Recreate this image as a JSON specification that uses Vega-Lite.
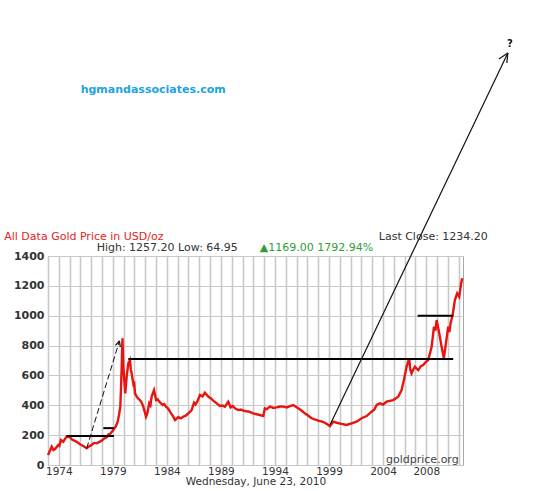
{
  "$schema": "https://vega.github.io/schema/vega-lite/v6.json",
  "width": 415,
  "height": 209,
  "autosize": {"type": "none"},
  "padding": {"left": 48, "top": 256, "right": 73, "bottom": 26},
  "background": "white",
  "config": {
    "view": {"stroke": "#a8a8a8", "strokeWidth": 1},
    "font": "DejaVu Sans"
  },
  "datasets": {
    "gold": [
      {"yr": 1973.00, "price": 67}, {"yr": 1973.20, "price": 98}, {"yr": 1973.34, "price": 123}, {"yr": 1973.50, "price": 100}, {"yr": 1973.65, "price": 107},
      {"yr": 1973.95, "price": 134}, {"yr": 1974.05, "price": 128}, {"yr": 1974.20, "price": 167}, {"yr": 1974.42, "price": 156},
      {"yr": 1974.60, "price": 178}, {"yr": 1974.73, "price": 190}, {"yr": 1975.04, "price": 186}, {"yr": 1975.20, "price": 172}, {"yr": 1975.34, "price": 167},
      {"yr": 1975.65, "price": 156}, {"yr": 1975.80, "price": 148}, {"yr": 1975.96, "price": 139}, {"yr": 1976.27, "price": 127},
      {"yr": 1976.58, "price": 112}, {"yr": 1976.80, "price": 125}, {"yr": 1977.04, "price": 134}, {"yr": 1977.25, "price": 148}, {"yr": 1977.51, "price": 145},
      {"yr": 1977.97, "price": 163}, {"yr": 1978.20, "price": 178}, {"yr": 1978.43, "price": 186}, {"yr": 1978.60, "price": 205}, {"yr": 1978.74, "price": 208},
      {"yr": 1979.04, "price": 234}, {"yr": 1979.26, "price": 257}, {"yr": 1979.45, "price": 290},
      {"yr": 1979.57, "price": 335}, {"yr": 1979.69, "price": 391}, {"yr": 1979.75, "price": 502},
      {"yr": 1979.82, "price": 658}, {"yr": 1979.89, "price": 849}, {"yr": 1979.97, "price": 658},
      {"yr": 1980.06, "price": 569}, {"yr": 1980.15, "price": 480}, {"yr": 1980.28, "price": 592},
      {"yr": 1980.43, "price": 681}, {"yr": 1980.59, "price": 703}, {"yr": 1980.66, "price": 640}, {"yr": 1980.74, "price": 614},
      {"yr": 1980.89, "price": 547}, {"yr": 1980.97, "price": 560}, {"yr": 1981.05, "price": 480}, {"yr": 1981.21, "price": 458},
      {"yr": 1981.35, "price": 445}, {"yr": 1981.51, "price": 435}, {"yr": 1981.65, "price": 420}, {"yr": 1981.82, "price": 391}, {"yr": 1982.07, "price": 324},
      {"yr": 1982.19, "price": 346}, {"yr": 1982.37, "price": 413}, {"yr": 1982.48, "price": 400}, {"yr": 1982.59, "price": 458},
      {"yr": 1982.81, "price": 502}, {"yr": 1983.00, "price": 435}, {"yr": 1983.15, "price": 440}, {"yr": 1983.30, "price": 424},
      {"yr": 1983.61, "price": 402}, {"yr": 1983.75, "price": 408}, {"yr": 1983.92, "price": 391}, {"yr": 1984.10, "price": 380}, {"yr": 1984.29, "price": 357},
      {"yr": 1984.59, "price": 324}, {"yr": 1984.75, "price": 301}, {"yr": 1985.05, "price": 320}, {"yr": 1985.30, "price": 312},
      {"yr": 1985.52, "price": 324}, {"yr": 1985.75, "price": 330}, {"yr": 1985.98, "price": 346}, {"yr": 1986.29, "price": 368},
      {"yr": 1986.51, "price": 417}, {"yr": 1986.65, "price": 405}, {"yr": 1986.81, "price": 424}, {"yr": 1987.06, "price": 469},
      {"yr": 1987.30, "price": 460}, {"yr": 1987.52, "price": 484}, {"yr": 1987.83, "price": 458}, {"yr": 1988.05, "price": 448}, {"yr": 1988.24, "price": 435},
      {"yr": 1988.61, "price": 413}, {"yr": 1988.91, "price": 395}, {"yr": 1989.15, "price": 398}, {"yr": 1989.37, "price": 391},
      {"yr": 1989.68, "price": 424}, {"yr": 1989.90, "price": 386}, {"yr": 1990.10, "price": 395}, {"yr": 1990.30, "price": 380},
      {"yr": 1990.60, "price": 368}, {"yr": 1990.85, "price": 372}, {"yr": 1991.07, "price": 364}, {"yr": 1991.35, "price": 360}, {"yr": 1991.62, "price": 357},
      {"yr": 1991.99, "price": 346}, {"yr": 1992.30, "price": 340}, {"yr": 1992.61, "price": 335}, {"yr": 1992.92, "price": 328},
      {"yr": 1993.07, "price": 380}, {"yr": 1993.25, "price": 375}, {"yr": 1993.54, "price": 391}, {"yr": 1993.85, "price": 382}, {"yr": 1994.16, "price": 386},
      {"yr": 1994.45, "price": 392}, {"yr": 1994.77, "price": 391}, {"yr": 1995.10, "price": 386}, {"yr": 1995.39, "price": 395}, {"yr": 1995.69, "price": 402},
      {"yr": 1996.15, "price": 380}, {"yr": 1996.45, "price": 365}, {"yr": 1996.77, "price": 346}, {"yr": 1997.10, "price": 330}, {"yr": 1997.39, "price": 313},
      {"yr": 1998.00, "price": 297}, {"yr": 1998.30, "price": 292}, {"yr": 1998.62, "price": 283}, {"yr": 1999.09, "price": 261},
      {"yr": 1999.39, "price": 290}, {"yr": 1999.71, "price": 283}, {"yr": 2000.17, "price": 275},
      {"yr": 2000.63, "price": 268}, {"yr": 2001.09, "price": 279}, {"yr": 2001.56, "price": 290},
      {"yr": 2002.02, "price": 313}, {"yr": 2002.48, "price": 328}, {"yr": 2002.94, "price": 357}, {"yr": 2003.20, "price": 372},
      {"yr": 2003.41, "price": 402}, {"yr": 2003.71, "price": 413}, {"yr": 2004.00, "price": 405}, {"yr": 2004.33, "price": 424},
      {"yr": 2004.94, "price": 435}, {"yr": 2005.41, "price": 458}, {"yr": 2005.72, "price": 502},
      {"yr": 2005.93, "price": 569}, {"yr": 2006.18, "price": 658}, {"yr": 2006.42, "price": 715},
      {"yr": 2006.52, "price": 640}, {"yr": 2006.64, "price": 614}, {"yr": 2006.80, "price": 640}, {"yr": 2006.95, "price": 658}, {"yr": 2007.26, "price": 636},
      {"yr": 2007.50, "price": 662}, {"yr": 2007.72, "price": 670}, {"yr": 2007.95, "price": 690}, {"yr": 2008.18, "price": 703}, {"yr": 2008.50, "price": 792},
      {"yr": 2008.71, "price": 926}, {"yr": 2008.85, "price": 900}, {"yr": 2008.96, "price": 971}, {"yr": 2009.08, "price": 930}, {"yr": 2009.20, "price": 882},
      {"yr": 2009.42, "price": 792}, {"yr": 2009.63, "price": 715}, {"yr": 2009.82, "price": 815},
      {"yr": 2010.03, "price": 926}, {"yr": 2010.14, "price": 890}, {"yr": 2010.25, "price": 949}, {"yr": 2010.44, "price": 1005},
      {"yr": 2010.65, "price": 1105}, {"yr": 2010.86, "price": 1150}, {"yr": 2011.05, "price": 1127},
      {"yr": 2011.23, "price": 1217}, {"yr": 2011.33, "price": 1251}
    ],
    "marks": [
      {"yr": 1974.73, "yr2": 1979.10, "price": 195, "price2": 195},
      {"yr": 1978.12, "yr2": 1979.10, "price": 247, "price2": 247},
      {"yr": 1980.43, "yr2": 2010.49, "price": 710, "price2": 710},
      {"yr": 2007.20, "yr2": 2010.49, "price": 1000, "price2": 1000}
    ],
    "arrow": [
      {"yr": 1999.09, "yr2": 2015.55, "price": 268, "price2": 2760},
      {"yr": 2014.72, "yr2": 2015.55, "price": 2720, "price2": 2760},
      {"yr": 2015.46, "yr2": 2015.55, "price": 2693, "price2": 2760},
      {"yr": 1979.24, "yr2": 1979.61, "price": 801, "price2": 831},
      {"yr": 1979.69, "yr2": 1979.61, "price": 790, "price2": 831}
    ],
    "dashed": [
      {"yr": 1976.58, "yr2": 1979.61, "price": 112, "price2": 831}
    ]
  },
  "encoding": {
    "x": {
      "field": "yr", "type": "quantitative",
      "scale": {"domain": [1973, 2011.4], "nice": false, "zero": false},
      "axis": {
        "title": "Wednesday, June 23, 2010",
        "values": [1973, 1974, 1975, 1976, 1977, 1978, 1979, 1980, 1981, 1982, 1983, 1984, 1985, 1986, 1987, 1988, 1989, 1990, 1991, 1992, 1993, 1994, 1995, 1996, 1997, 1998, 1999, 2000, 2001, 2002, 2003, 2004, 2005, 2006, 2007, 2008, 2009, 2010, 2011],
        "format": "d",
        "labelExpr": "indexof([1974, 1979, 1984, 1989, 1994, 1999, 2004, 2008], datum.value) >= 0 ? datum.label : ''",
        "grid": true, "gridColor": "#c8c8c8", "gridWidth": 1.6,
        "domain": false, "ticks": false, "labelPadding": 1,
        "labelFont": "DejaVu Sans", "labelFontSize": 10.5, "labelColor": "#333",
        "labelOverlap": false, "labelFlush": false,
        "titleFont": "DejaVu Sans", "titleFontSize": 10.5, "titleFontWeight": "normal",
        "titleColor": "#333", "titlePadding": 0
      }
    },
    "y": {
      "field": "price", "type": "quantitative",
      "scale": {"domain": [0, 1400], "nice": false},
      "axis": {
        "title": null,
        "values": [0, 200, 400, 600, 800, 1000, 1200, 1400],
        "format": "d",
        "grid": true, "gridColor": "#c8c8c8", "gridWidth": 1.2,
        "domain": false, "ticks": false, "labelPadding": 4,
        "labelOverlap": false,
        "labelFont": "DejaVu Sans", "labelFontSize": 11, "labelFontWeight": "bold",
        "labelColor": "#333"
      }
    }
  },
  "layer": [
    {
      "data": {"name": "gold"},
      "mark": {"type": "line", "color": "#e8140f", "strokeWidth": 2.4}
    },
    {
      "data": {"name": "marks"},
      "mark": {"type": "rule", "color": "black", "strokeWidth": 2},
      "encoding": {"x2": {"field": "yr2"}, "y2": {"field": "price2"}}
    },
    {
      "data": {"name": "arrow"},
      "mark": {"type": "rule", "color": "#111", "strokeWidth": 1.2},
      "encoding": {"x2": {"field": "yr2"}, "y2": {"field": "price2"}}
    },
    {
      "data": {"name": "dashed"},
      "mark": {"type": "rule", "color": "#111", "strokeWidth": 1, "strokeDash": [6, 3]},
      "encoding": {"x2": {"field": "yr2"}, "y2": {"field": "price2"}}
    },
    {
      "data": {"values": [{"yr": 1968.95, "price": 1527, "label": "All Data Gold Price in USD/oz"}]},
      "mark": {"type": "text", "align": "left", "baseline": "middle", "font": "DejaVu Sans", "fontSize": 11, "color": "#e8231c"},
      "encoding": {"text": {"field": "label"}}
    },
    {
      "data": {"values": [{"yr": 2013.7, "price": 1527, "label": "Last Close: 1234.20"}]},
      "mark": {"type": "text", "align": "right", "baseline": "middle", "font": "DejaVu Sans", "fontSize": 11, "color": "#333"},
      "encoding": {"text": {"field": "label"}}
    },
    {
      "data": {"values": [{"yr": 1977.5, "price": 1452, "label": "High: 1257.20 Low: 64.95"}]},
      "mark": {"type": "text", "align": "left", "baseline": "middle", "font": "DejaVu Sans", "fontSize": 11, "color": "#333"},
      "encoding": {"text": {"field": "label"}}
    },
    {
      "data": {"values": [{"yr": 1992.6, "price": 1452, "label": "▲1169.00 1792.94%"}]},
      "mark": {"type": "text", "align": "left", "baseline": "middle", "font": "DejaVu Sans", "fontSize": 11, "color": "#2e9e3a"},
      "encoding": {"text": {"field": "label"}}
    },
    {
      "data": {"values": [{"yr": 2011.0, "price": 34, "label": "goldprice.org"}]},
      "mark": {"type": "text", "align": "right", "baseline": "middle", "font": "DejaVu Sans", "fontSize": 11, "color": "#444"},
      "encoding": {"text": {"field": "label"}}
    },
    {
      "data": {"values": [{"yr": 1976.02, "price": 2512, "label": "hgmandassociates.com"}]},
      "mark": {"type": "text", "align": "left", "baseline": "middle", "font": "DejaVu Sans", "fontSize": 11, "fontWeight": "bold", "color": "#22a3df"},
      "encoding": {"text": {"field": "label"}}
    },
    {
      "data": {"values": [{"yr": 2015.74, "price": 2820, "label": "?"}]},
      "mark": {"type": "text", "align": "center", "baseline": "middle", "font": "DejaVu Sans", "fontSize": 10, "fontWeight": "bold", "color": "#111"},
      "encoding": {"text": {"field": "label"}}
    }
  ]
}
